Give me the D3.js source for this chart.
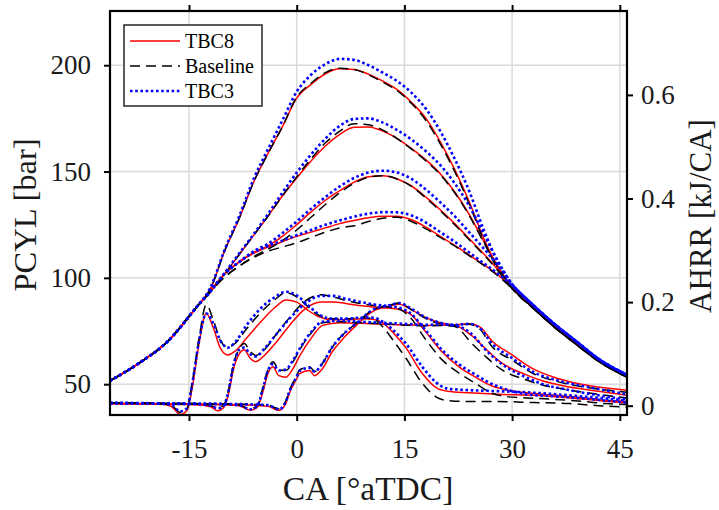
<!DOCTYPE html>
<html>
<head>
<meta charset="utf-8">
<script src="https://cdn.jsdelivr.net/npm/d3@7"></script>
<style>
  body { margin: 0; background: #fff; }
  text { font-family: "Liberation Serif", "Times New Roman", serif; }
</style>
</head>
<body>
<div id="chart"></div>
<script>
// ---- data ----
// cylinder pressure [bar], four operating points, shared crank angle grid
var caP = [-26,-22,-18,-14,-12,-10,-8,-6,-4,-2,0,2,4,6,8,10,12,14,16,18,20,22,24,26,28,30,33,36,39,42,46];

var p1_tbc8 = [51.6,59.8,70,86,95,113,128,145,158.5,171,184.5,191,196,198.3,198,195.8,192.5,188.5,182.5,175,164,151,136,119,105,95.5,86,77,69,61.2,53.6];
var p1_base = [51.6,59.8,70,86,95,113,128,145,158.5,171,185,191.5,196.5,198.6,198,195.5,192,188,182,174,163,150,135,118,104,95,85.5,76.5,68.5,60.8,53.3];
var p1_tbc3 = [51.6,59.8,70,86,95.5,113.5,129,146.5,160.5,174,187.5,195.5,200.5,203,202.5,200,196.5,192.5,187,179.5,169,156,141,123,107.5,97,87,78,70,62,54.4];

var p2_tbc8 = [51.6,59.8,70,86,93.5,102,111,120,129,138.5,147,155,162,167.5,170.8,171,169,165.5,160.8,155.5,149,140.5,130,117.5,105.5,95.5,86,77,69,61.2,53.6];
var p2_base = [51.6,59.8,70,86,93.5,102,111,120,129,138.5,147.5,156,163.5,169,172.5,172,169.5,165.5,160.5,155,148.5,140,129.5,117,105,95,85.5,76.5,68.5,60.8,53.3];
var p2_tbc3 = [51.6,59.8,70,86,93.5,102.5,111.5,120.5,130,140,149.5,158,165.5,171.5,174.7,175,173,169.5,165,159.5,153,144.5,134,121,108,97,87,78,70,62,54.4];

var p3_tbc8 = [51.6,59.8,70,86,94,102,107.5,112,115,119.5,125,131,136.5,141,145,147.5,148,146.5,143.2,138,132,125.5,118.5,111.5,104,95.5,86,77,69,61.2,53.6];
var p3_base = [51.6,59.8,70,86,93.5,100.5,105.5,110,113.5,117.5,122.5,128.5,134.5,140,144.5,147.3,148,146.5,143,137.5,131.5,125,118,111,103.5,95,85.5,76.5,68.5,60.8,53.3];
var p3_tbc3 = [51.6,59.8,70,86,94,102,107.5,112.5,116,121,126.5,132.5,138,143,147,149.5,150.4,149.5,146.5,141.5,135.5,129,121.5,114,106,97,87,78,70,62,54.4];

var p4_tbc8 = [51.6,59.8,70,86,94,102,107.5,111.5,114.5,117,119.5,121.5,123.5,125.5,127,128.3,129,129,127.3,123.8,119.5,115.3,110.8,106.3,101.5,95.5,86,77,69,61.2,53.6];
var p4_base = [51.6,59.8,70,86,93.5,100.5,105.5,109.5,112.5,114.5,116.5,119,121.5,123.5,124.5,126.5,128,128.5,126.5,123,119,115,110.5,106,101,95,85.5,76.5,68.5,60.8,53.3];
var p4_tbc3 = [51.6,59.8,70,86,94,102,107.5,112,115,117.5,120,122.5,125,127,128.8,130.2,130.9,130.8,129.3,126,121.5,117,112,107,102,96.5,87,78,70,62,54.4];

// apparent heat release rate [kJ/CA], one crank angle grid per operating point
var caA = [-26,-22,-19,-17.5,-16.2,-15.3,-14.6,-13.6,-12.6,-11.6,-10.6,-9.6,-8.6,-7,-5,-3,-1.5,0,1.5,3,5,7,9,10.6,12,13.5,15.2,17.5,19.4,21,24,28,33,38,42,46];
var a1_tbc8 = [.004,.004,.003,-.001,-.017,-.01,.03,.12,.178,.15,.11,.098,.105,.13,.162,.19,.204,.2,.185,.172,.166,.166,.168,.167,.16,.14,.112,.062,.035,.028,.025,.022,.02,.015,.01,.005];
var a1_base = [.005,.005,.004,.001,-.013,-.007,.04,.13,.195,.165,.125,.113,.12,.148,.18,.205,.218,.21,.192,.175,.168,.168,.17,.168,.152,.125,.092,.043,.017,.01,.008,.008,.006,.004,0,-.003];
var a1_tbc3 = [.005,.005,.004,.002,-.011,-.005,.038,.125,.178,.158,.125,.112,.122,.155,.188,.21,.22,.213,.195,.177,.168,.168,.17,.17,.162,.145,.12,.075,.045,.033,.03,.028,.025,.02,.015,.01];

var caB = [-26,-20,-14,-12,-11,-10.2,-9.5,-8.8,-8,-7.3,-6.5,-5.7,-4.5,-3,-1,1,3.4,5,7,9,11,13,14.5,15.7,18,20.3,22.6,24.9,27.2,29.5,32,36,40,43,46];
var a2_tbc8 = [.004,.003,.002,-.002,-.01,-.004,.022,.07,.1,.108,.092,.085,.097,.12,.155,.185,.2,.2,.197,.193,.19,.188,.185,.178,.142,.103,.075,.055,.038,.03,.025,.02,.015,.01,.008];
var a2_base = [.005,.004,.003,0,-.004,0,.03,.08,.11,.12,.105,.097,.108,.135,.17,.2,.214,.21,.203,.197,.193,.19,.185,.172,.127,.088,.063,.043,.024,.017,.015,.012,.008,.004,.002];
var a2_tbc3 = [.005,.004,.003,0,-.005,-.001,.028,.078,.108,.112,.1,.095,.11,.135,.168,.195,.212,.212,.206,.2,.195,.192,.188,.18,.145,.107,.08,.06,.042,.03,.022,.018,.014,.01,.006];

var caC = [-26,-15,-10,-8,-6.5,-5.5,-4.8,-4,-3.3,-2.5,-1.5,-0.5,0.5,2,3.6,6,9,12,15,18,20,22,24.4,26.3,28.6,31.9,34.2,38,42,46];
var a3_tbc8 = [.004,.003,.002,0,-.009,-.003,.022,.062,.075,.058,.055,.072,.098,.13,.155,.16,.159,.157,.156,.155,.156,.155,.135,.11,.082,.06,.048,.036,.028,.02];
var a3_base = [.005,.004,.003,.001,-.006,0,.03,.07,.085,.07,.068,.085,.11,.14,.16,.162,.16,.158,.156,.154,.155,.153,.12,.095,.069,.05,.04,.03,.022,.015];
var a3_tbc3 = [.005,.004,.003,.001,-.007,-.001,.028,.068,.08,.068,.07,.088,.112,.142,.162,.164,.162,.16,.158,.156,.157,.155,.138,.108,.08,.055,.042,.03,.02,.012];

var caD = [-26,-15,-8,-4,-2.5,-1.5,-1,0,0.4,1.8,2.5,3.5,5,6.5,8.3,10.6,12.9,14.3,16,18,20,22,24,25.5,27.2,30,32.8,36.5,41,46];
var a4_tbc8 = [.004,.003,.002,-.001,-.009,.005,.025,.052,.062,.068,.058,.07,.105,.13,.155,.182,.192,.196,.185,.17,.16,.156,.158,.152,.125,.098,.072,.052,.038,.03];
var a4_base = [.005,.004,.003,.001,-.006,.01,.03,.058,.069,.075,.066,.08,.114,.138,.159,.185,.194,.198,.185,.168,.158,.155,.157,.148,.114,.088,.063,.046,.034,.026];
var a4_tbc3 = [.005,.004,.003,.001,-.007,.008,.028,.056,.067,.073,.066,.08,.114,.138,.159,.185,.194,.198,.187,.17,.16,.156,.158,.15,.12,.092,.066,.048,.035,.022];

var cases = ["TBC8", "Baseline", "TBC3"];
var xTicks = [-15, 0, 15, 30, 45];
var pTicks = [50, 100, 150, 200];
var aTicks = [0, 0.2, 0.4, 0.6];

// ---- layout ----
var margin = {top: 11, right: 92, bottom: 95, left: 110},
    width = 719 - margin.left - margin.right,
    height = 510 - margin.top - margin.bottom;

var svg = d3.select("#chart")
  .append("svg")
  .attr("width", 719)
  .attr("height", 510);

var g = svg.append("g")
  .attr("transform", "translate(" + margin.left + "," + margin.top + ")");

var x = d3.scaleLinear().domain([-26, 46]).range([0, width]);
var yP = d3.scaleLinear().domain([35.5, 225.5]).range([height, 0]);
var yA = d3.scaleLinear().domain([-0.018, 0.762]).range([height, 0]);

// line styles per case
var style = {
  "TBC8":     {color: "#ff0000", width: 1.5, dash: null},
  "Baseline": {color: "#000000", width: 1.5, dash: "10,6"},
  "TBC3":     {color: "#0000ff", width: 2.6, dash: "2.6,2.6"}
};

// grid
g.append("g").selectAll("line")
  .data(xTicks).enter().append("line")
  .attr("x1", function(d) { return x(d); })
  .attr("x2", function(d) { return x(d); })
  .attr("y1", 0).attr("y2", height)
  .attr("stroke", "#dadada").attr("stroke-width", 1.5);
g.append("g").selectAll("line")
  .data(pTicks).enter().append("line")
  .attr("y1", function(d) { return yP(d); })
  .attr("y2", function(d) { return yP(d); })
  .attr("x1", 0).attr("x2", width)
  .attr("stroke", "#dadada").attr("stroke-width", 1.5);

// curves
svg.append("defs").append("clipPath").attr("id", "clip")
  .append("rect").attr("width", width).attr("height", height);

var plot = g.append("g").attr("clip-path", "url(#clip)");

function addLine(ca, vals, scale, name) {
  var s = style[name];
  var line = d3.line()
    .x(function(d, i) { return x(ca[i]); })
    .y(function(d) { return scale(d); })
    .curve(d3.curveMonotoneX);
  plot.append("path")
    .datum(vals)
    .attr("fill", "none")
    .attr("stroke", s.color)
    .attr("stroke-width", s.width)
    .attr("stroke-dasharray", s.dash)
    .attr("d", line);
}

var pSets = [[p1_tbc8, p1_base, p1_tbc3], [p2_tbc8, p2_base, p2_tbc3],
             [p3_tbc8, p3_base, p3_tbc3], [p4_tbc8, p4_base, p4_tbc3]];
var aSets = [[caA, a1_tbc8, a1_base, a1_tbc3], [caB, a2_tbc8, a2_base, a2_tbc3],
             [caC, a3_tbc8, a3_base, a3_tbc3], [caD, a4_tbc8, a4_base, a4_tbc3]];

cases.forEach(function(name, k) {
  pSets.forEach(function(set) { addLine(caP, set[k], yP, name); });
  aSets.forEach(function(set) { addLine(set[0], set[k + 1], yA, name); });
});

// axes
var fs = "27px";
var axBottom = g.append("g")
  .attr("transform", "translate(0," + height + ")")
  .call(d3.axisBottom(x).tickValues(xTicks).tickSize(6)
        .tickFormat(function(d) { return String(d); }));
axBottom.selectAll("text").attr("y", 43).attr("dy", 0);

var axTop = g.append("g")
  .call(d3.axisTop(x).tickValues(xTicks).tickSize(6).tickFormat(""));

var axLeft = g.append("g")
  .call(d3.axisLeft(yP).tickValues(pTicks).tickSize(6).tickPadding(13));

var axRight = g.append("g")
  .attr("transform", "translate(" + width + ",0)")
  .call(d3.axisRight(yA).tickValues(aTicks).tickSize(6).tickPadding(8)
        .tickFormat(function(d) { return d === 0 ? "0" : d3.format(".1f")(d); }));

[axBottom, axTop, axLeft, axRight].forEach(function(ax) {
  ax.select(".domain").remove();
  ax.selectAll("line").attr("stroke", "#000").attr("stroke-width", 2);
  ax.selectAll("text")
    .style("font-family", "'Liberation Serif', 'Times New Roman', serif")
    .style("font-size", fs)
    .attr("fill", "#1a1a1a");
});

// box
g.append("rect")
  .attr("width", width).attr("height", height)
  .attr("fill", "none").attr("stroke", "#000").attr("stroke-width", 2.2);

// axis labels
svg.append("text")
  .attr("x", 368).attr("y", 500)
  .attr("text-anchor", "middle")
  .style("font-size", "33.5px").attr("fill", "#1a1a1a")
  .text("CA [°aTDC]");

svg.append("text")
  .attr("transform", "translate(36,215) rotate(-90)")
  .attr("text-anchor", "middle")
  .style("font-size", "32.5px").attr("fill", "#1a1a1a")
  .text("PCYL [bar]");

svg.append("text")
  .attr("transform", "translate(711,216) rotate(-90)")
  .attr("text-anchor", "middle")
  .style("font-size", "31px").attr("fill", "#1a1a1a")
  .text("AHRR [kJ/CA]");

// legend
var lg = svg.append("g").attr("transform", "translate(124,25)");
lg.append("rect")
  .attr("width", 138).attr("height", 81)
  .attr("fill", "#fff").attr("stroke", "#262626").attr("stroke-width", 1.5);
cases.forEach(function(name, i) {
  var s = style[name], yy = 16 + i * 25;
  lg.append("line")
    .attr("x1", 6).attr("x2", 56).attr("y1", yy).attr("y2", yy)
    .attr("stroke", s.color).attr("stroke-width", s.width)
    .attr("stroke-dasharray", s.dash);
  lg.append("text")
    .attr("x", 61).attr("y", yy).attr("dy", "0.35em")
    .style("font-size", "20px").attr("fill", "#000")
    .text(name);
});
</script>
</body>
</html>
